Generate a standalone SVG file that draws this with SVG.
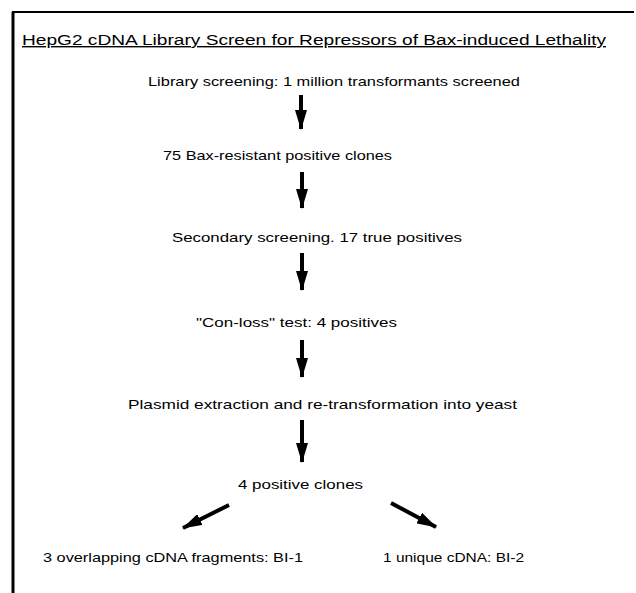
<svg xmlns="http://www.w3.org/2000/svg" width="636" height="593" viewBox="0 0 636 593">
<style>
text{font-family:"Liberation Sans",Arial,sans-serif;font-size:13.5px;fill:#000}
.ttl{font-size:14px;text-decoration:underline}
.frame{stroke:#000;fill:none}
.conn{stroke:#000;stroke-width:4;fill:none}
</style>
<defs>
<marker id="ah" markerUnits="userSpaceOnUse" markerWidth="20" markerHeight="12" refX="19" refY="6" orient="auto" viewBox="0 0 20 12">
<path d="M0,0 L20,6 L0,12 Z" fill="#000"/>
</marker>
</defs>
<rect width="636" height="593" fill="#fff"/>
<g id="frame">
<line class="frame" x1="12" y1="12" x2="634" y2="12" stroke-width="2"/>
<line class="frame" x1="13" y1="12" x2="13" y2="593" stroke-width="3"/>
</g>
<g id="title"><text class="ttl" x="22" y="45" textLength="584" lengthAdjust="spacingAndGlyphs">HepG2 cDNA Library Screen for Repressors of Bax-induced Lethality</text></g>
<g id="n1"><text x="148" y="86" textLength="372" lengthAdjust="spacingAndGlyphs">Library screening:  1 million transformants screened</text></g>
<g id="n2"><text x="163" y="160" textLength="229" lengthAdjust="spacingAndGlyphs">75 Bax-resistant positive clones</text></g>
<g id="n3"><text x="172" y="242" textLength="290" lengthAdjust="spacingAndGlyphs">Secondary screening. 17 true positives</text></g>
<g id="n4"><text x="196" y="327" textLength="201" lengthAdjust="spacingAndGlyphs">"Con-loss" test: 4 positives</text></g>
<g id="n5"><text x="128" y="409" textLength="389" lengthAdjust="spacingAndGlyphs">Plasmid extraction and re-transformation into yeast</text></g>
<g id="n6"><text x="238" y="489" textLength="125" lengthAdjust="spacingAndGlyphs">4 positive clones</text></g>
<g id="n7"><text x="43" y="562" textLength="260" lengthAdjust="spacingAndGlyphs">3 overlapping cDNA fragments: BI-1</text></g>
<g id="n8"><text x="383" y="562" textLength="141" lengthAdjust="spacingAndGlyphs">1 unique cDNA: BI-2</text></g>
<g id="connectors">
<line class="conn" x1="301" y1="95" x2="301" y2="129" marker-end="url(#ah)"/>
<line class="conn" x1="302" y1="172" x2="302" y2="208" marker-end="url(#ah)"/>
<line class="conn" x1="302" y1="253" x2="302" y2="290" marker-end="url(#ah)"/>
<line class="conn" x1="302" y1="340" x2="302" y2="377" marker-end="url(#ah)"/>
<line class="conn" x1="302" y1="420" x2="302" y2="462" marker-end="url(#ah)"/>
<line class="conn" x1="229" y1="505" x2="183" y2="528" marker-end="url(#ah)"/>
<line class="conn" x1="391" y1="503" x2="436" y2="527" marker-end="url(#ah)"/>
</g>
</svg>
